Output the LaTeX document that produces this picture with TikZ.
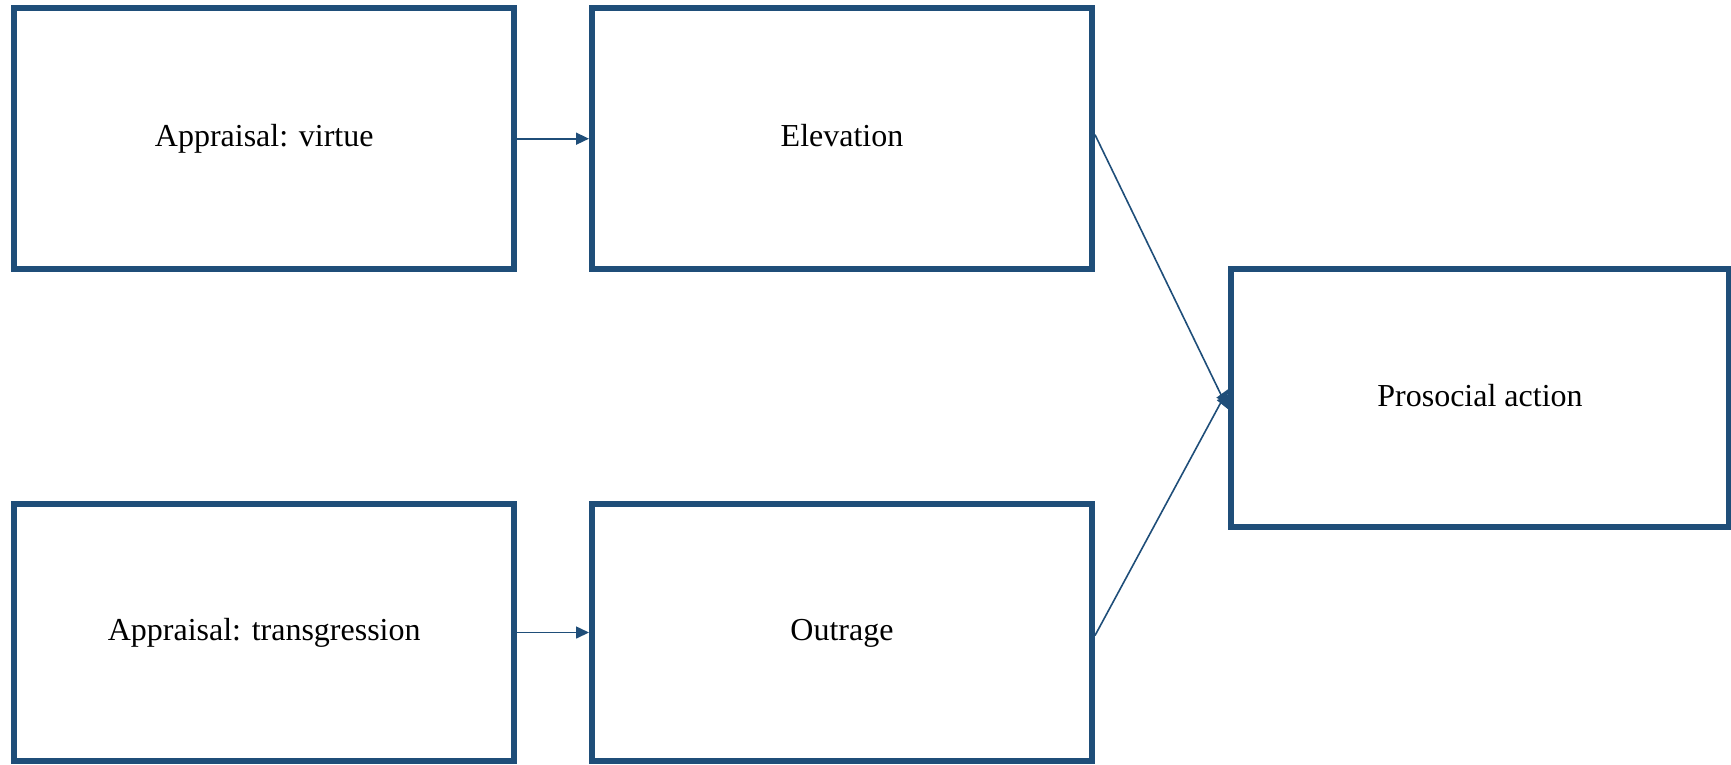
\documentclass[tikz,border=0pt]{standalone}
\usepackage{fontspec}
\setmainfont{Liberation Serif}
\usetikzlibrary{arrows.meta}
\definecolor{boxblue}{RGB}{31,78,121}
\begin{document}
\begin{tikzpicture}[x=1pt,y=-1pt,
  box/.style={draw=boxblue, line width=6pt, fill=white, inner sep=0pt, outer sep=0pt,
    minimum width=500pt, font=\fontsize{32}{38}\selectfont, text=black,
    text height=22pt, text depth=6pt},
  conn/.style={draw=boxblue, line width=1.6pt, -{Triangle[length=13pt,width=12pt]}}]
\useasboundingbox (0,0) rectangle (1731,764);
\node[box, minimum height=260.5pt] (av) at (264.2,138.7) {Appraisal: virtue};
\node[box, minimum height=260.5pt] (el) at (842,138.7) {Elevation};
\node[box, minimum width=498pt, minimum height=257.5pt] (pa) at (1480,398.2) {Prosocial action};
\node[box, minimum height=257pt] (at) at (264.2,632.5) {Appraisal: transgression};
\node[box, minimum height=257pt] (ou) at (842,632.5) {Outrage};
\draw[conn] ([xshift=3pt]av.east) -- ([xshift=-3pt]el.west);
\draw[conn] ([xshift=3pt]at.east) -- ([xshift=-3pt]ou.west);
\draw[conn] ([xshift=3pt,yshift=4pt]el.east) -- ([xshift=-3pt,yshift=-11pt]pa.west);
\draw[conn] ([xshift=3pt,yshift=-3pt]ou.east) -- ([xshift=-3pt,yshift=9pt]pa.west);
\end{tikzpicture}
\end{document}
